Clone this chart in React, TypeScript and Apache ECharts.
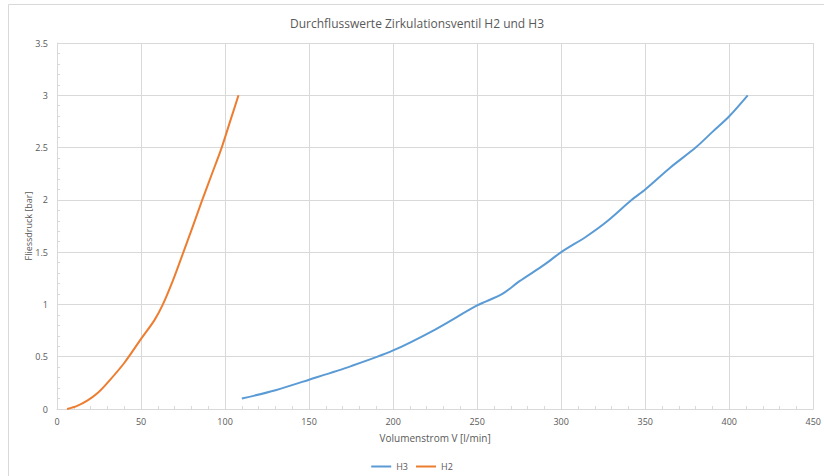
import React, { useEffect, useRef } from "react";
import * as echarts from "echarts";

const title = "Durchflusswerte Zirkulationsventil H2 und H3";
const xName = "Volumenstrom V [l/min]";
const yName = "Fliessdruck [bar]";

const h3Flow = [110, 130, 150, 175, 200, 225, 250, 265, 275, 290, 300, 315, 327, 342, 350, 365, 380, 390, 400, 411];
const h3Pressure = [0.1, 0.18, 0.28, 0.41, 0.56, 0.76, 0.99, 1.1, 1.22, 1.38, 1.5, 1.65, 1.79, 2.0, 2.1, 2.31, 2.5, 2.65, 2.8, 3.0];

const h2Flow = [6, 12, 18, 24, 30, 40, 50, 58, 63, 69, 75, 80, 86, 92, 98, 103, 108];
const h2Pressure = [0, 0.03, 0.08, 0.15, 0.25, 0.44, 0.67, 0.85, 1.0, 1.23, 1.49, 1.71, 1.98, 2.24, 2.5, 2.75, 3.0];

const FONT = "'Open Sans', 'Liberation Sans', sans-serif";
const TXT = "#595959";
const GRID = "#d9d9d9";

export default function App() {
  const ref = useRef<HTMLDivElement>(null);
  useEffect(() => {
    document.body.style.margin = "0";
    const chart = echarts.init(ref.current!, null, { renderer: "svg" });
    chart.setOption({
      animation: false,
      backgroundColor: "#ffffff",
      title: {
        text: title,
        left: 412,
        textAlign: "center",
        top: 12,
        textStyle: { fontFamily: FONT, fontSize: 12, fontWeight: "normal", color: TXT },
      },
      legend: {
        data: ["H3", "H2"],
        left: "center",
        top: 457,
        itemWidth: 20,
        itemHeight: 2,
        itemGap: 8,
        icon: "rect",
        textStyle: { fontFamily: FONT, fontSize: 9, color: TXT },
      },
      graphic: [
        {
          type: "rect",
          shape: { x: 8.5, y: 4.5, width: 840, height: 490 },
          style: { fill: "none", stroke: GRID, lineWidth: 1 },
          silent: true,
        },
      ],
      grid: { left: 57, right: 8, top: 43, bottom: 67, containLabel: false },
      xAxis: {
        type: "value",
        min: 0,
        max: 450,
        interval: 50,
        name: xName,
        nameLocation: "middle",
        nameGap: 24,
        nameMoveOverlap: false,
        nameTextStyle: { fontFamily: FONT, fontSize: 10, color: TXT },
        axisLine: { show: true, lineStyle: { color: GRID } },
        axisTick: { show: true, inside: true, length: 3, lineStyle: { color: GRID } },
        minorTick: { show: true, splitNumber: 5, length: 3, lineStyle: { color: GRID } },
        axisLabel: { fontFamily: FONT, fontSize: 9, color: TXT, margin: 8 },
        splitLine: { show: true, lineStyle: { color: GRID } },
      },
      yAxis: {
        type: "value",
        min: 0,
        max: 3.5,
        interval: 0.5,
        name: yName,
        nameLocation: "middle",
        nameGap: 24,
        nameMoveOverlap: false,
        nameTextStyle: { fontFamily: FONT, fontSize: 9, color: TXT },
        axisLine: { show: true, lineStyle: { color: GRID } },
        axisTick: { show: true, inside: true, length: 3, lineStyle: { color: GRID } },
        minorTick: { show: true, splitNumber: 5, length: 3, lineStyle: { color: GRID } },
        axisLabel: { fontFamily: FONT, fontSize: 9, color: TXT, margin: 9 },
        splitLine: { show: true, lineStyle: { color: GRID } },
      },
      series: [
        {
          name: "H3",
          type: "line",
          smooth: 0.3,
          showSymbol: false,
          symbol: "none",
          color: "#5B9BD5",
          lineStyle: { width: 2, color: "#5B9BD5" },
          data: h3Flow.map((x, i) => [x, h3Pressure[i]]),
        },
        {
          name: "H2",
          type: "line",
          smooth: 0.3,
          showSymbol: false,
          symbol: "none",
          color: "#ED7D31",
          lineStyle: { width: 2, color: "#ED7D31" },
          data: h2Flow.map((x, i) => [x, h2Pressure[i]]),
        },
      ],
    });
    return () => chart.dispose();
  }, []);
  return <div ref={ref} style={{ width: 824, height: 476 }} />;
}
